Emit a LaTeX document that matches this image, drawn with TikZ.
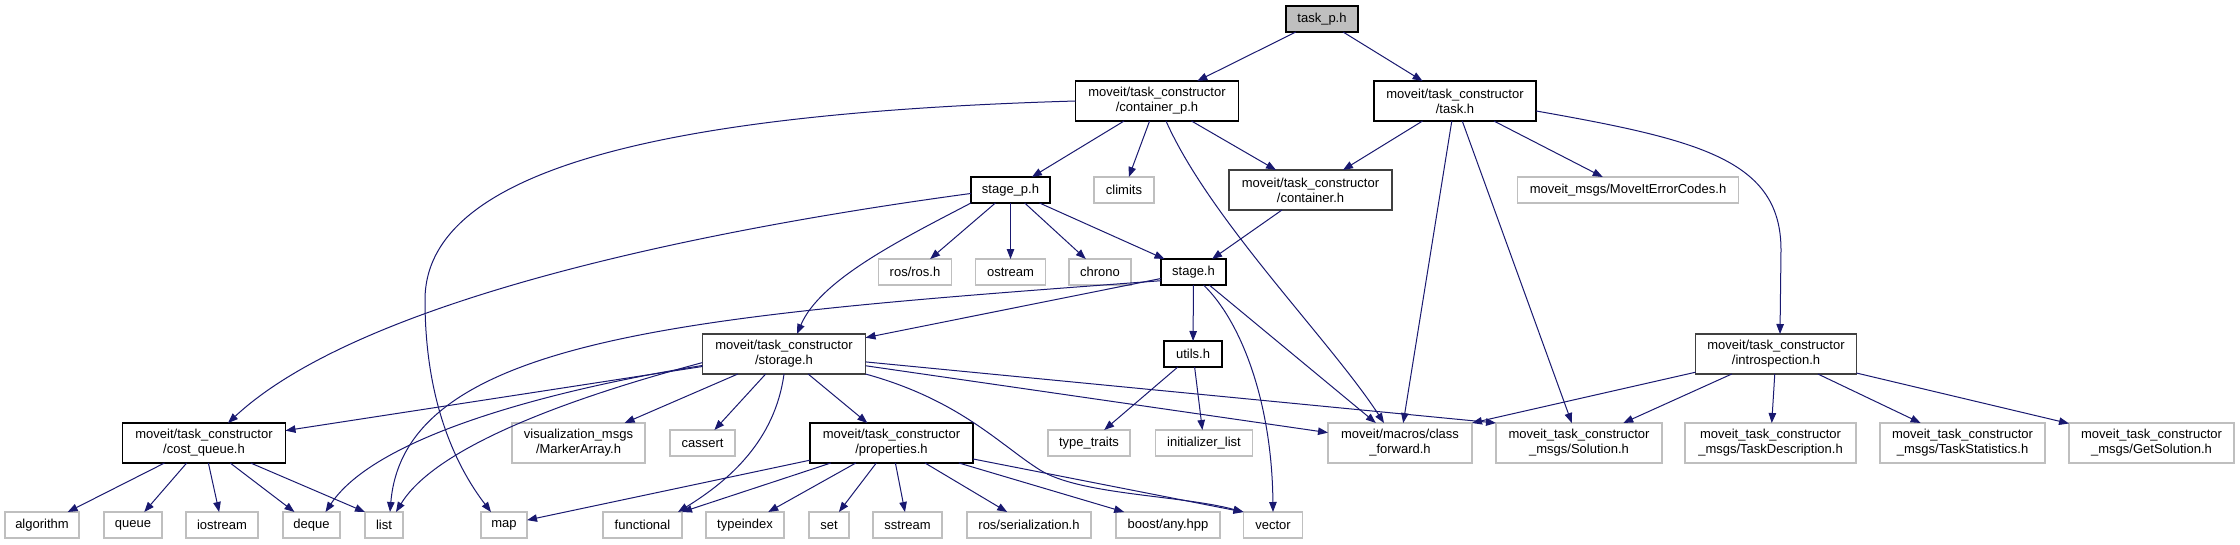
\documentclass[tikz,border=0pt]{standalone}
\usepackage{fontspec}
\setmainfont{Liberation Sans}
\usetikzlibrary{arrows.meta}
\definecolor{edgeblue}{HTML}{191970}
\definecolor{greyL}{HTML}{BFBFBF}
\definecolor{greyD}{HTML}{404040}
\begin{document}
\begin{tikzpicture}[x=1pt,y=-1pt,
  every node/.style={font=\fontsize{13}{15}\selectfont, inner sep=0pt, outer sep=0pt, align=center, text=black, rectangle},
  doc/.style={draw=black, line width=1.2pt, fill=white},
  hid/.style={draw=greyD, line width=1.6pt, fill=white},
  sys/.style={draw=greyL, line width=1.2pt, fill=white},
  one/.style={minimum height=26pt},
  two/.style={minimum height=40pt},
  dep/.style={draw=edgeblue, line width=1.0pt, -{Triangle[length=10pt,width=7.5pt]}}]
\useasboundingbox (0,0) rectangle (2240,544);
\fill[white] (0,0) rectangle (2240,544);
% row 0
\node[doc,one,minimum width=72pt,fill=greyL] (tp) at (1322,19) {task\_p.h};
% row 1
\node[doc,two,minimum width=163pt] (cp) at (1157,101) {moveit/task\_constructor\\/container\_p.h};
\node[doc,two,minimum width=162pt] (task) at (1455,101) {moveit/task\_constructor\\/task.h};
% row 2
\node[doc,one,minimum width=79pt] (stp) at (1010.5,190) {stage\_p.h};
\node[sys,one,minimum width=60pt] (clim) at (1124,190) {climits};
\node[hid,two,minimum width=163pt] (cont) at (1310.5,190) {moveit/task\_constructor\\/container.h};
\node[sys,one,minimum width=221pt] (mec) at (1628,190) {moveit\_msgs/MoveItErrorCodes.h};
% row 3
\node[sys,one,minimum width=73pt] (ros) at (915,272) {ros/ros.h};
\node[sys,one,minimum width=70pt] (ost) at (1010.5,272) {ostream};
\node[sys,one,minimum width=62pt] (chr) at (1100,272) {chrono};
\node[doc,one,minimum width=65pt] (stage) at (1193.5,272) {stage.h};
% row 4
\node[hid,two,minimum width=163pt] (stor) at (784,354) {moveit/task\_constructor\\/storage.h};
\node[doc,one,minimum width=58pt] (utils) at (1193,354) {utils.h};
\node[hid,two,minimum width=161pt] (intro) at (1776,354) {moveit/task\_constructor\\/introspection.h};
% row 5
\node[doc,two,minimum width=163pt] (cq) at (204,443) {moveit/task\_constructor\\/cost\_queue.h};
\node[sys,two,minimum width=133pt] (vis) at (578.5,443) {visualization\_msgs\\/MarkerArray.h};
\node[sys,one,minimum width=65pt] (cas) at (702.5,443) {cassert};
\node[doc,two,minimum width=163pt] (prop) at (891.5,443) {moveit/task\_constructor\\/properties.h};
\node[sys,one,minimum width=82pt] (tt) at (1089,443) {type\_traits};
\node[sys,one,minimum width=97pt] (il) at (1204,443) {initializer\_list};
\node[sys,two,minimum width=144pt] (cf) at (1400,443) {moveit/macros/class\\\_forward.h};
\node[sys,two,minimum width=166pt] (sol) at (1579,443) {moveit\_task\_constructor\\\_msgs/Solution.h};
\node[sys,two,minimum width=171pt] (td) at (1770.5,443) {moveit\_task\_constructor\\\_msgs/TaskDescription.h};
\node[sys,two,minimum width=165pt] (ts) at (1962.5,443) {moveit\_task\_constructor\\\_msgs/TaskStatistics.h};
\node[sys,two,minimum width=165pt] (gs) at (2151.5,443) {moveit\_task\_constructor\\\_msgs/GetSolution.h};
% row 6
\node[sys,one,minimum width=74pt] (alg) at (42,525) {algorithm};
\node[sys,one,minimum width=58pt] (que) at (133,525) {queue};
\node[sys,one,minimum width=72pt] (ios) at (222,525) {iostream};
\node[sys,one,minimum width=57pt] (deq) at (311.5,525) {deque};
\node[sys,one,minimum width=38pt] (lst) at (384,525) {list};
\node[sys,one,minimum width=46pt] (map) at (504,525) {map};
\node[sys,one,minimum width=79pt] (fun) at (642.5,525) {functional};
\node[sys,one,minimum width=78pt] (tyi) at (745,525) {typeindex};
\node[sys,one,minimum width=40pt] (set) at (829,525) {set};
\node[sys,one,minimum width=69pt] (sst) at (907.5,525) {sstream};
\node[sys,one,minimum width=124pt] (rser) at (1029,525) {ros/serialization.h};
\node[sys,one,minimum width=104pt] (boost) at (1168,525) {boost/any.hpp};
\node[sys,one,minimum width=59pt] (vec) at (1273,525) {vector};

% edges
\draw[dep] (tp) -- (cp);
\draw[dep] (tp) -- (task);
\draw[dep] (cp) -- (stp);
\draw[dep] (cp) -- (clim);
\draw[dep] (cp) -- (cont);
\draw[dep] ([xshift=9pt]cp.south) .. controls (1210,220) and (1330,340) .. ([xshift=-16pt]cf.north);
\draw[dep] (cp.west) .. controls (700,112) and (425,160) .. (425,300) .. controls (425,400) and (455,465) .. (map.135);
\draw[dep] (task) -- (cont);
\draw[dep] (task) -- (cf);
\draw[dep] (task) -- (sol);
\draw[dep] (task) -- (mec);
\draw[dep] (task.-7) .. controls (1700,140) and (1781,160) .. (1781,250) -- ([xshift=4pt]intro.north);
\draw[dep] (cont) -- (stage);
\draw[dep] (stp) -- (ros);
\draw[dep] (stp) -- (ost);
\draw[dep] (stp) -- (chr);
\draw[dep] (stp) -- (stage);
\draw[dep] (stp.south west) .. controls (900,240) and (820,280) .. ([xshift=13pt]stor.north);
\draw[dep] (stp.185) .. controls (700,230) and (360,300) .. ([xshift=24pt]cq.north);
\draw[dep] (stage) -- (stor);
\draw[dep] (stage) -- (utils);
\draw[dep] (stage) -- (cf);
\draw[dep] ([xshift=10pt]stage.south) .. controls (1240,320) and (1272,400) .. (vec.north);
\draw[dep] (stage.-165) .. controls (700,315) and (405,335) .. ([xshift=6pt]lst.north);
\draw[dep] (stor) -- (cq);
\draw[dep] (stor) -- (vis);
\draw[dep] (stor) -- (cas);
\draw[dep] (stor) -- (prop);
\draw[dep] (stor) -- (cf);
\draw[dep] (stor) -- (sol.north west);
\draw[dep] (stor.-172) .. controls (580,385) and (380,430) .. ([xshift=14pt]deq.north);
\draw[dep] (stor.-174) .. controls (600,390) and (440,440) .. ([xshift=12pt]lst.north);
\draw[dep] (stor.south) .. controls (775,440) and (730,480) .. ([xshift=-4pt]fun.north east);
\draw[dep] (stor.south east) .. controls (960,400) and (1000,445) .. (1040,470) .. controls (1080,495) and (1180,495) .. (vec.north west);
\draw[dep] (utils) -- (tt);
\draw[dep] (utils) -- (il);
\draw[dep] (intro) -- (cf.north east);
\draw[dep] (intro) -- (sol);
\draw[dep] (intro) -- (td);
\draw[dep] (intro) -- (ts);
\draw[dep] (intro) -- (gs);
\draw[dep] (cq) -- (alg);
\draw[dep] (cq) -- (que);
\draw[dep] (cq) -- (ios);
\draw[dep] (cq) -- (deq);
\draw[dep] (cq) -- (lst.north west);
\draw[dep] (prop) -- (map);
\draw[dep] (prop) -- (fun);
\draw[dep] (prop) -- (tyi);
\draw[dep] (prop) -- (set);
\draw[dep] (prop) -- (sst);
\draw[dep] (prop) -- (rser);
\draw[dep] (prop) -- (boost);
\draw[dep] (prop) -- (vec.north west);
\end{tikzpicture}
\end{document}
